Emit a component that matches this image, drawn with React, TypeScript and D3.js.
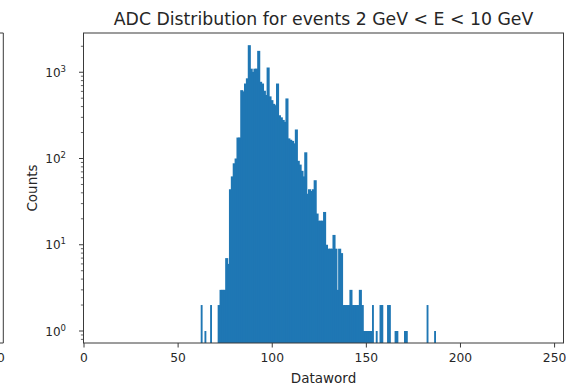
import React from 'react';
import * as d3 from 'd3';

const titleText = 'ADC Distribution for events 2 GeV < E < 10 GeV';
const xLabelText = 'Dataword';
const yLabelText = 'Counts';
const xTickValues = [0, 50, 100, 150, 200, 250];
const yTickExponents = [0, 1, 2, 3];

// histogram bins (left edge, width 1) with non-zero counts
const datawords = [
  62, 64, 67, 71, 72, 73, 74, 75, 76, 77, 78, 79, 80, 81, 82, 83, 84, 85, 86, 87,
  88, 89, 90, 91, 92, 93, 94, 95, 96, 97, 98, 99, 100, 101, 102, 103, 104, 105, 106, 107,
  108, 109, 110, 111, 112, 113, 114, 115, 116, 117, 118, 119, 120, 121, 122, 123, 124, 125, 126, 127,
  128, 129, 130, 131, 132, 133, 134, 135, 136, 137, 138, 139, 140, 141, 142, 143, 144, 145, 146, 147,
  148, 149, 150, 151, 152, 153, 155, 157, 158, 161, 162, 165, 166, 170, 171, 182, 186,
];
const counts = [
  2, 1, 2, 2, 3, 3, 3, 7, 6, 44, 62, 88, 100, 175, 175, 620, 600, 740, 850, 2060,
  1100, 1010, 1100, 1100, 1770, 775, 740, 610, 545, 1135, 525, 475, 430, 415, 740, 317, 300, 280, 266, 497,
  171, 165, 160, 150, 217, 94, 85, 72, 62, 118, 39, 44, 42, 44, 56, 23, 19, 19, 19, 24,
  10, 9, 9, 9, 13, 9, 3, 9, 8, 2, 2, 2, 2, 3, 2, 2, 2, 2, 3, 2,
  1, 1, 1, 1, 1, 2, 1, 2, 2, 2, 2, 1, 1, 1, 1, 2, 1,
];

const FONT = 'DejaVu Sans, sans-serif';
const AXIS = '#3a3a3a';
const TEXT = '#262626';
const BAR = '#1f77b4';

export default function App() {
  const W = 566;
  const H = 387;
  const T = 33;
  const B = 343;
  const L = 83.5;
  const R = 563.5;

  const x = d3.scaleLinear().domain([0, 255]).range([84, 564]);
  const y = d3.scaleLog().domain([Math.pow(10, -0.139), Math.pow(10, 3.455)]).range([B, T]);

  const [yMin, yMax] = y.domain();
  const minorTicks: number[] = [];
  for (let e = -1; e <= 3; e++) {
    for (let m = 2; m <= 9; m++) {
      const v = m * Math.pow(10, e);
      if (v >= yMin && v <= yMax) minorTicks.push(v);
    }
  }

  const present = new Set(datawords);
  const cx = (L + R) / 2;

  return (
    <svg
      width={W}
      height={H}
      style={{ position: 'absolute', left: 0, top: 0, background: '#fff' }}
      fontFamily={FONT}
    >
      <rect x={0} y={0} width={W} height={H} fill="#fff" />

      {/* partial neighbouring panel on the left */}
      <path d={`M0,${T} H3.3 V${B} H0`} fill="none" stroke={AXIS} strokeWidth={1} />
      <text x={-7} y={362} fontSize={12.3} textAnchor="middle" fill={TEXT}>250</text>

      {/* bars */}
      <g>
        {datawords.map((d, i) => (
          <rect
            key={d}
            x={x(d)}
            y={y(counts[i])}
            width={x(d + 1) - x(d) + (present.has(d + 1) ? 1.2 : 0)}
            height={B - y(counts[i])}
            fill={BAR}
          />
        ))}
      </g>

      {/* spines */}
      <rect x={L} y={T} width={R - L} height={B - T} fill="none" stroke={AXIS} strokeWidth={1} />

      {/* x ticks */}
      {xTickValues.map((v) => (
        <g key={v}>
          <line x1={x(v)} x2={x(v)} y1={B} y2={B + 4.5} stroke={AXIS} strokeWidth={1} />
          <text x={x(v)} y={362} fontSize={12.3} textAnchor="middle" fill={TEXT}>{v}</text>
        </g>
      ))}

      {/* y ticks */}
      {minorTicks.map((v) => (
        <line key={'m' + v} x1={L} x2={L - 2.6} y1={y(v)} y2={y(v)} stroke={AXIS} strokeWidth={0.8} />
      ))}
      {yTickExponents.map((e) => (
        <g key={e}>
          <line x1={L} x2={L - 4.5} y1={y(Math.pow(10, e))} y2={y(Math.pow(10, e))} stroke={AXIS} strokeWidth={1} />
          <text x={66} y={y(Math.pow(10, e)) + 4.5} fontSize={12} textAnchor="end" fill={TEXT}>
            <tspan>10</tspan>
            <tspan dy={-5} fontSize={8.5}>{e}</tspan>
          </text>
        </g>
      ))}

      {/* labels */}
      <text x={cx} y={24.5} fontSize={17.3} textAnchor="middle" fill={TEXT}>{titleText}</text>
      <text x={cx} y={383} fontSize={13.5} textAnchor="middle" fill={TEXT}>{xLabelText}</text>
      <text
        transform={`translate(37,${(T + B) / 2}) rotate(-90)`}
        fontSize={13.5}
        textAnchor="middle"
        fill={TEXT}
      >
        {yLabelText}
      </text>
    </svg>
  );
}
